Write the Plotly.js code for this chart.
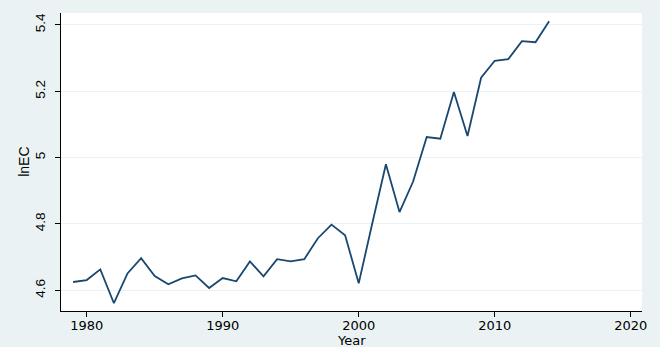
<!DOCTYPE html>
<html>
<head>
<meta charset="utf-8">
<script src="https://cdn.plot.ly/plotly-3.0.1.min.js"></script>
<style>html,body{margin:0;padding:0;background:#eaf2f3;}#chart{width:660px;height:347px;}</style>
</head>
<body>
<div id="chart"></div>
<script>
var years = [1979,1980,1981,1982,1983,1984,1985,1986,1987,1988,1989,1990,1991,1992,1993,1994,1995,1996,1997,1998,1999,2000,2001,2002,2003,2004,2005,2006,2007,2008,2009,2010,2011,2012,2013,2014];
var lnEC = [4.625,4.631,4.663,4.561,4.651,4.697,4.643,4.618,4.636,4.645,4.607,4.637,4.627,4.687,4.642,4.694,4.687,4.694,4.757,4.798,4.766,4.621,4.802,4.980,4.836,4.928,5.062,5.057,5.198,5.065,5.241,5.292,5.297,5.351,5.348,5.411];
var xTicks = [1980,1990,2000,2010,2020];
var yTicks = [4.6,4.8,5,5.2,5.4];
var yTickLabels = ['4.6','4.8','5','5.2','5.4'];

var trace = {
  x: years, y: lnEC, type: 'scatter', mode: 'lines',
  line: {color: '#1a476f', width: 1.8},
  hoverinfo: 'none'
};
var layout = {
  width: 660, height: 347,
  margin: {l: 61, r: 18, t: 13, b: 36},
  paper_bgcolor: '#eaf2f3',
  plot_bgcolor: '#ffffff',
  showlegend: false,
  xaxis: {
    range: [1978.11, 2020.83],
    tickvals: xTicks, ticktext: xTicks.map(String),
    ticks: 'outside', ticklen: 5, tickcolor: '#000', tickwidth: 1,
    showline: true, linecolor: '#000', linewidth: 1,
    showgrid: false, zeroline: false,
    tickfont: {family: 'DejaVu Sans', size: 13, color: '#000'},
    ticklabelstandoff: -3
  },
  yaxis: {
    range: [4.5376, 5.436],
    tickvals: yTicks, ticktext: yTickLabels,
    tickangle: -90,
    ticks: 'outside', ticklen: 5, tickcolor: '#000', tickwidth: 1,
    showline: true, linecolor: '#000', linewidth: 1,
    showgrid: true, gridcolor: '#eaf2f3', gridwidth: 1,
    zeroline: false,
    tickfont: {family: 'Liberation Sans, Arial', size: 13.5, color: '#000'},
    ticklabelstandoff: 5
  },
  annotations: [
    {text: 'Year', xref: 'paper', yref: 'paper', x: 0.5, y: -0.099, xanchor: 'center', yanchor: 'middle',
     showarrow: false, borderpad: 0, font: {family: 'DejaVu Sans', size: 13, color: '#000'}},
    {text: 'lnEC', xref: 'paper', yref: 'paper', x: -0.064, y: 0.5, xanchor: 'center', yanchor: 'middle',
     textangle: -90, showarrow: false, font: {family: 'Liberation Sans, Arial', size: 14, color: '#000'}}
  ]
};
Plotly.newPlot('chart', [trace], layout, {displayModeBar: false, staticPlot: true});
</script>
</body>
</html>
